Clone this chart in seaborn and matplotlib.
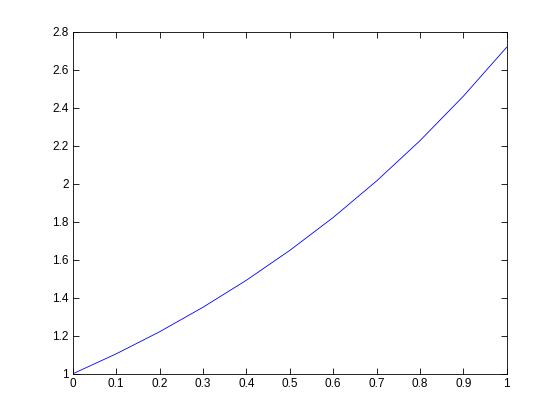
import matplotlib
matplotlib.use("Agg")
import matplotlib.pyplot as plt
import seaborn as sns
import pandas as pd

# values
x_vals = [0.0, 0.1, 0.2, 0.3, 0.4, 0.5, 0.6, 0.7, 0.8, 0.9, 1.0]
y_vals = [1.0, 1.105, 1.221, 1.35, 1.492, 1.649, 1.822, 2.014, 2.226, 2.46, 2.718]

x_ticks = [0, 0.1, 0.2, 0.3, 0.4, 0.5, 0.6, 0.7, 0.8, 0.9, 1]
x_tick_labels = ["0", "0.1", "0.2", "0.3", "0.4", "0.5", "0.6", "0.7", "0.8", "0.9", "1"]
y_ticks = [1, 1.2, 1.4, 1.6, 1.8, 2, 2.2, 2.4, 2.6, 2.8]
y_tick_labels = ["1", "1.2", "1.4", "1.6", "1.8", "2", "2.2", "2.4", "2.6", "2.8"]

sns.set_style("ticks")
plt.rcParams["font.family"] = ["Liberation Sans", "DejaVu Sans"]

df = pd.DataFrame({"x": x_vals, "y": y_vals})

fig = plt.figure(figsize=(5.6, 4.2), dpi=100)
ax = fig.add_axes([0.13, 0.11, 0.775, 0.815])
sns.lineplot(data=df, x="x", y="y", ax=ax, color="#0000ff", linewidth=0.6)

ax.set_xlim(0, 1)
ax.set_ylim(1, 2.8)
ax.set_xticks(x_ticks)
ax.set_xticklabels(x_tick_labels)
ax.set_yticks(y_ticks)
ax.set_yticklabels(y_tick_labels)
ax.set_xlabel("")
ax.set_ylabel("")
ax.tick_params(direction="in", length=4, width=0.6, labelsize=8.5, pad=3,
               top=True, right=True, colors="black")
for s in ax.spines.values():
    s.set_visible(True)
    s.set_linewidth(0.6)
    s.set_color("black")

fig.savefig("out.png", dpi=100)
